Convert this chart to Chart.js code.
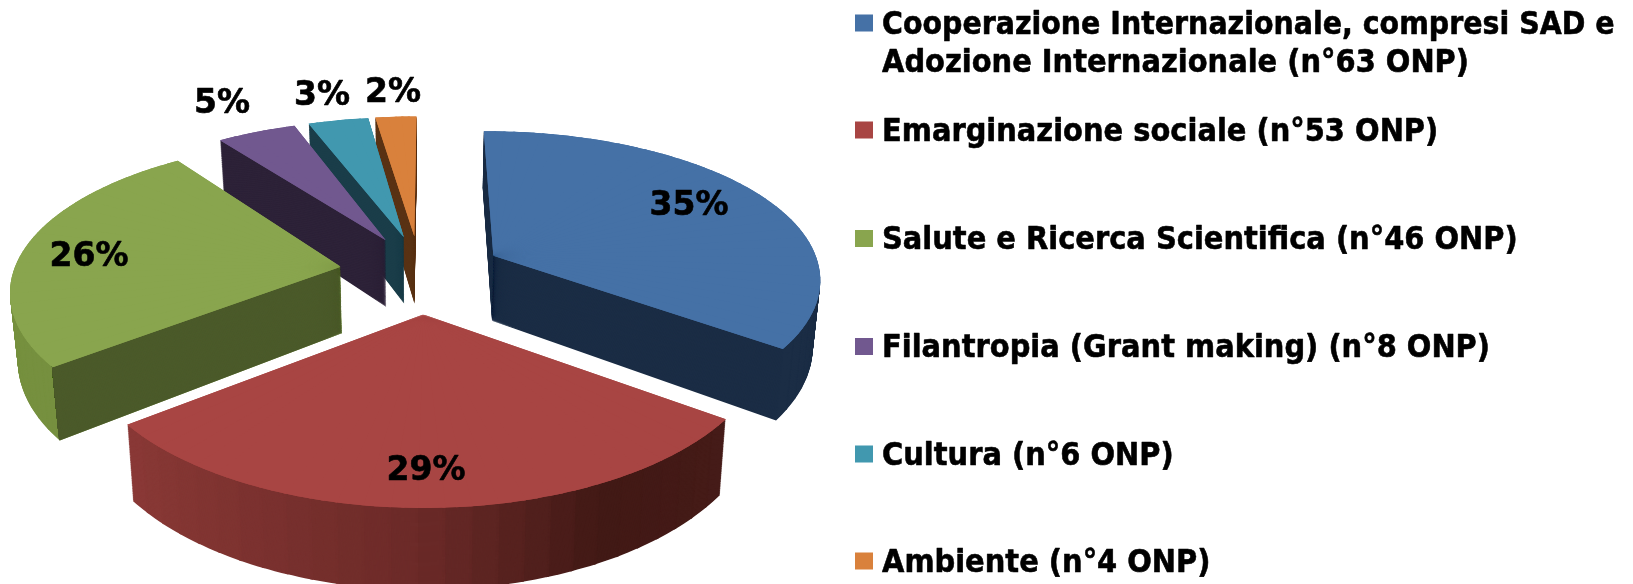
<!DOCTYPE html>
<html><head><meta charset="utf-8">
<style>html,body{margin:0;padding:0;background:#fff;overflow:hidden}canvas{display:block}</style>
<script src="https://cdn.jsdelivr.net/npm/chart.js@4"></script>
</head><body>
<canvas id="c" width="1633" height="584"></canvas>
<script>
// ---- data ----
const categories = [
  ["Cooperazione Internazionale, compresi SAD e", "Adozione Internazionale (n°63 ONP)"],
  ["Emarginazione sociale (n°53 ONP)"],
  ["Salute e Ricerca Scientifica (n°46 ONP)"],
  ["Filantropia (Grant making) (n°8 ONP)"],
  ["Cultura (n°6 ONP)"],
  ["Ambiente (n°4 ONP)"]
];
const values = [63, 53, 46, 8, 6, 4];
const percentLabels = ["35%", "29%", "26%", "5%", "3%", "2%"];

// ---- styles ----
const topColors  = ["#4571A6", "#A84543", "#89A54E", "#71588F", "#4198AF", "#D9813C"];
const sideColors = ["#1B2D45", null, "#76903F", "#2D2238", "#1A3D49", "#5A3315"];
const redRamp = [[-0.85, [140,58,55]], [0, [107,42,40]], [0.45, [66,26,22]], [0.85, [70,27,24]]];
const cutColor = {2: "#4B5A2A"};
const explode = [0.245, 0.275, 0.255, 0.25, 0.25, 0.25];
const shiftX  = [0, -0.004, 0, 0, 0, -0.01];
const thick   = [0.069, 0.0685, 0.0695, 0.072, 0.072, 0.073];
const drawOrder = [5, 4, 3, 2, 0, 1];

// perspective view of the pie plane
const view = {K: 6192, C: 6.457, A: 687, cx: 423, g0: 31, g1: 0.309, pinch: 0.019};
const toPlane = (X, Y) => {
  const q = view.K / (view.C - Y);
  return {x: view.cx + X * (view.g0 + view.g1 * q), y: q - view.A, q};
};
const STEP = 4 * Math.PI / 180;

function solid(p, i, t) {
  return {x: view.cx + (p.x - view.cx) * (1 - view.pinch * t), y: p.y + thick[i] * p.q * t};
}
function planePoint(el, i, a, onRim) {
  const mid = (el.startAngle + el.endAngle) / 2;
  const X = (onRim ? Math.cos(a) : 0) + explode[i] * Math.cos(mid) + shiftX[i];
  const Y = (onRim ? Math.sin(a) : 0) + explode[i] * Math.sin(mid);
  return toPlane(X, Y);
}
function drawWedge(ctx, el, i, a0, a1, t, color) {
  const r = el.outerRadius;
  const pA = solid(planePoint(el, i, a0, false), i, t);
  const p0 = solid(planePoint(el, i, a0, true), i, t);
  const p1 = solid(planePoint(el, i, a1, true), i, t);
  const ux = r * Math.cos(a0), uy = r * Math.sin(a0), wx = r * Math.cos(a1), wy = r * Math.sin(a1);
  const det = ux * wy - uy * wx;
  const vx = p0.x - pA.x, vy = p0.y - pA.y, zx = p1.x - pA.x, zy = p1.y - pA.y;
  const a = (vx * wy - zx * uy) / det, c = (zx * ux - vx * wx) / det;
  const b = (vy * wy - zy * uy) / det, d = (zy * ux - vy * wx) / det;
  ctx.save();
  ctx.transform(a, b, c, d, pA.x - a * el.x - c * el.y, pA.y - b * el.x - d * el.y);
  const pad = 0.004;
  const saved = [el.startAngle, el.endAngle, el.circumference, el.options];
  el.startAngle = a0 - pad; el.endAngle = a1 + pad; el.circumference = a1 - a0 + 2 * pad;
  el.options = {backgroundColor: color, borderWidth: 0, borderColor: color, borderAlign: 'center',
                offset: 0, spacing: 0, borderRadius: 0, circular: true, borderJoinStyle: 'round'};
  el.draw(ctx);
  [el.startAngle, el.endAngle, el.circumference, el.options] = saved;
  ctx.restore();
}
function wedges(el, shifted) {
  const n = Math.max(2, Math.ceil((el.endAngle - el.startAngle) / STEP));
  const out = [], w = (el.endAngle - el.startAngle) / n, s = el.startAngle;
  if (shifted) {
    out.push([s, s + w / 2]);
    for (let k = 0; k < n - 1; k++) out.push([s + (k + .5) * w, s + (k + 1.5) * w]);
    out.push([s + (n - .5) * w, s + n * w]);
    return out;
  }
  for (let k = 0; k < n; k++) out.push([s + k * w, s + (k + 1) * w]);
  return out;
}
function ramp(v) {
  let s = redRamp;
  if (v <= s[0][0]) return `rgb(${s[0][1]})`;
  for (let k = 1; k < s.length; k++) if (v <= s[k][0]) {
    const f = (v - s[k-1][0]) / (s[k][0] - s[k-1][0]);
    return `rgb(${s[k-1][1].map((c, j) => Math.round(c + (s[k][1][j] - c) * f))})`;
  }
  return `rgb(${s[s.length-1][1]})`;
}
function stack(ctx, el, i, colorFn) {
  const layers = Math.ceil(thick[i] * 1250);
  for (let l = layers; l >= 1; l--) {
    for (const [a0, a1] of wedges(el)) drawWedge(ctx, el, i, a0, a1, l / layers, colorFn(a0, a1));
  }
}

const pie3d = {
  id: 'pie3d',
  beforeDatasetDraw() { return false; },
  afterDatasetsDraw(chart) {
    const ctx = chart.ctx, els = chart.getDatasetMeta(0).data;
    for (const i of drawOrder) {
      const el = els[i];
      stack(ctx, el, i, (a0, a1) => sideColors[i] || ramp(Math.cos((a0 + a1) / 2)));
      if (cutColor[i]) {
        const P = solid(planePoint(el, i, el.startAngle, true), i, 0);
        const Q = solid(planePoint(el, i, el.startAngle, true), i, 1);
        const dx = Q.x - P.x, dy = Q.y - P.y;
        ctx.save();
        ctx.beginPath();
        ctx.moveTo(P.x - dx * 9, P.y - dy * 9);
        ctx.lineTo(Q.x + dx * 9, Q.y + dy * 9);
        ctx.lineTo(chart.width, Q.y + dy * 9);
        ctx.lineTo(chart.width, P.y - dy * 9);
        ctx.closePath();
        ctx.clip();
        stack(ctx, el, i, () => cutColor[i]);
        ctx.restore();
      }
      for (const [a0, a1] of wedges(el, true)) drawWedge(ctx, el, i, a0, a1, 0, topColors[i]);
      for (const [a0, a1] of wedges(el)) drawWedge(ctx, el, i, a0, a1, 0, topColors[i]);
    }
  }
};

const labelAt = [[689,206],[426,471],[89,257],[222,104],[322,96],[393,93]];
const legendRows = [25.5, 132.5, 241, 349, 456.5, 563.5];
const textKit = {
  id: 'textKit',
  afterDraw(chart) {
    const ctx = chart.ctx;
    ctx.save();
    ctx.fillStyle = '#000';
    ctx.strokeStyle = '#000';
    ctx.lineJoin = 'round';
    ctx.lineWidth = 0.6;
    ctx.textBaseline = 'middle';
    ctx.textAlign = 'center';
    ctx.font = 'bold 33px "DejaVu Sans"';
    percentLabels.forEach((t, i) => {
      ctx.fillText(t, labelAt[i][0], labelAt[i][1]);
      ctx.strokeText(t, labelAt[i][0], labelAt[i][1]);
    });
    ctx.textAlign = 'left';
    categories.forEach((lines, i) => {
      ctx.fillStyle = topColors[i];
      ctx.fillRect(855, legendRows[i] - 11, 18, 17);
      ctx.fillStyle = '#000';
      lines.forEach((t, k) => {
        ctx.save();
        ctx.translate(882, legendRows[i] + k * 38);
        ctx.scale(0.918, 1);
        ctx.font = 'bold 31.5px "DejaVu Sans"';
        ctx.fillText(t, 0, 0, 798);
        ctx.strokeText(t, 0, 0, 798);
        ctx.restore();
      });
    });
    ctx.restore();
  }
};

new Chart(document.getElementById('c'), {
  type: 'pie',
  data: {labels: categories.map(l => l.join(' ')),
         datasets: [{data: values, backgroundColor: topColors, borderWidth: 0}]},
  options: {responsive: false, animation: false,
            plugins: {legend: {display: false}, tooltip: {enabled: false}}},
  plugins: [pie3d, textKit]
});
</script>
</body></html>
